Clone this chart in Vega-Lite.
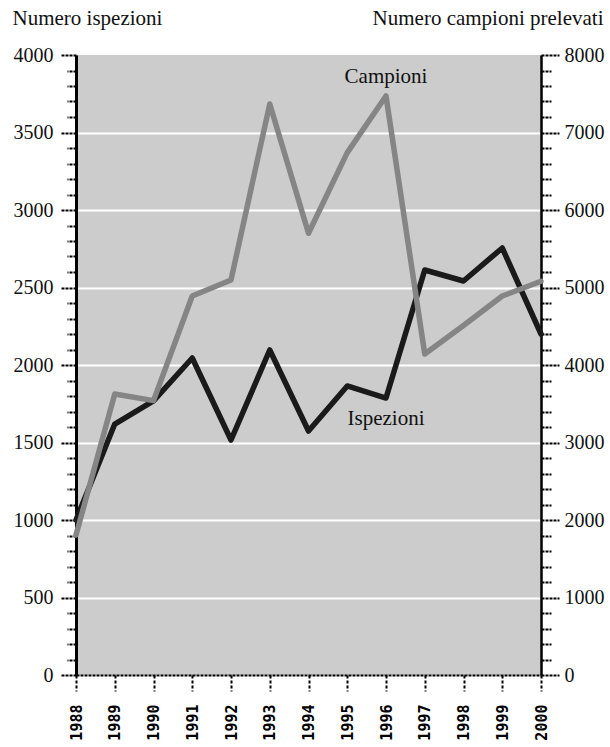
{
  "$schema": "https://vega.github.io/schema/vega-lite/v6.json",
  "width": 465,
  "height": 620,
  "padding": {"left": 12, "top": 7, "right": 5, "bottom": 2},
  "background": "white",
  "config": {"view": {"fill": "#cccccc", "stroke": null}, "font": "Liberation Serif"},
  "data": {"values": [
    {"anno": 1988, "ispezioni": 1000, "campioni": 1806},
    {"anno": 1989, "ispezioni": 1619, "campioni": 3626},
    {"anno": 1990, "ispezioni": 1768, "campioni": 3540},
    {"anno": 1991, "ispezioni": 2045, "campioni": 4890},
    {"anno": 1992, "ispezioni": 1516, "campioni": 5097},
    {"anno": 1993, "ispezioni": 2097, "campioni": 7368},
    {"anno": 1994, "ispezioni": 1574, "campioni": 5700},
    {"anno": 1995, "ispezioni": 1865, "campioni": 6740},
    {"anno": 1996, "ispezioni": 1787, "campioni": 7471},
    {"anno": 1997, "ispezioni": 2613, "campioni": 4142},
    {"anno": 1998, "ispezioni": 2542, "campioni": 4510},
    {"anno": 1999, "ispezioni": 2755, "campioni": 4890},
    {"anno": 2000, "ispezioni": 2200, "campioni": 5080}
  ]},
  "encoding": {
    "x": {
      "field": "anno", "type": "quantitative",
      "scale": {"domain": [1988, 2000], "nice": false, "zero": false},
      "axis": {
        "title": null, "grid": false,
        "values": [1988, 1989, 1990, 1991, 1992, 1993, 1994, 1995, 1996, 1997, 1998, 1999, 2000],
        "format": "d", "labelAngle": 270, "labelFlush": false, "labelOverlap": false,
        "labelFont": "DejaVu Sans Mono", "labelFontWeight": "bold", "labelFontSize": 15, "labelColor": "#000",
        "labelPadding": 13,
        "tickSize": 16, "tickDash": [3, 2], "tickWidth": 2, "tickColor": "#000",
        "domainDash": [3, 1], "domainWidth": 2, "domainColor": "#000"
      }
    }
  },
  "layer": [
    {
      "encoding": {
        "y": {
          "field": "ispezioni", "type": "quantitative",
          "scale": {"domain": [0, 4000], "nice": false},
          "axis": {
            "title": "Numero ispezioni", "titleAngle": 0, "titleX": -64, "titleY": -31,
            "titleAlign": "left", "titleBaseline": "alphabetic",
            "titleFont": "Liberation Serif", "titleFontSize": 21, "titleFontWeight": "normal", "titleColor": "#111",
            "values": [0,100,200,300,400,500,600,700,800,900,1000,1100,1200,1300,1400,1500,1600,1700,1800,1900,2000,2100,2200,2300,2400,2500,2600,2700,2800,2900,3000,3100,3200,3300,3400,3500,3600,3700,3800,3900,4000],
            "format": "d",
            "labelExpr": "datum.value % 500 === 0 ? datum.label : ''",
            "labelOverlap": false, "labelFlush": false,
            "labelFont": "Liberation Serif", "labelFontSize": 20, "labelColor": "#111",
            "labelPadding": 7,
            "tickSize": {"condition": {"test": "datum.value % 500 === 0", "value": 16}, "value": 9},
            "tickColor": "#000", "tickWidth": 2, "tickDash": [3, 1],
            "domainColor": "#000", "domainWidth": 3,
            "grid": true, "gridColor": "white", "gridWidth": 2,
            "gridOpacity": {"condition": {"test": "datum.value % 500 === 0 && datum.value > 0 && datum.value < 4000", "value": 1}, "value": 0}
          }
        }
      },
      "layer": [
        {
          "mark": {"type": "line", "color": "#1a1a1a", "strokeWidth": 5.5, "strokeCap": "round", "strokeJoin": "round"}
        },
        {
          "data": {"values": [
            {"anno": 1996, "ispezioni": 3819, "testo": "Campioni"},
            {"anno": 1996, "ispezioni": 1613, "testo": "Ispezioni"}
          ]},
          "mark": {"type": "text", "font": "Liberation Serif", "fontSize": 21, "align": "center", "baseline": "alphabetic", "color": "#111"},
          "encoding": {
            "text": {"field": "testo"}
          }
        }
      ]
    },
    {
      "mark": {"type": "line", "color": "#858585", "strokeWidth": 5.5, "strokeCap": "round", "strokeJoin": "round"},
      "encoding": {
        "y": {
          "field": "campioni", "type": "quantitative",
          "scale": {"domain": [0, 8000], "nice": false},
          "axis": {
            "orient": "right",
            "title": "Numero campioni prelevati", "titleAngle": 0, "titleX": 62, "titleY": -31,
            "titleAlign": "right", "titleBaseline": "alphabetic",
            "titleFont": "Liberation Serif", "titleFontSize": 21, "titleFontWeight": "normal", "titleColor": "#111",
            "values": [0,200,400,600,800,1000,1200,1400,1600,1800,2000,2200,2400,2600,2800,3000,3200,3400,3600,3800,4000,4200,4400,4600,4800,5000,5200,5400,5600,5800,6000,6200,6400,6600,6800,7000,7200,7400,7600,7800,8000],
            "format": "d",
            "labelExpr": "datum.value % 1000 === 0 ? datum.label : ''",
            "labelOverlap": false, "labelFlush": false,
            "labelFont": "Liberation Serif", "labelFontSize": 20, "labelColor": "#111",
            "labelPadding": 5,
            "tickSize": {"condition": {"test": "datum.value % 1000 === 0", "value": 18}, "value": 10},
            "tickColor": "#000", "tickWidth": 2, "tickDash": [3, 1],
            "domainColor": "#000", "domainWidth": 2.5,
            "grid": false
          }
        }
      }
    }
  ],
  "resolve": {"scale": {"y": "independent"}}
}
